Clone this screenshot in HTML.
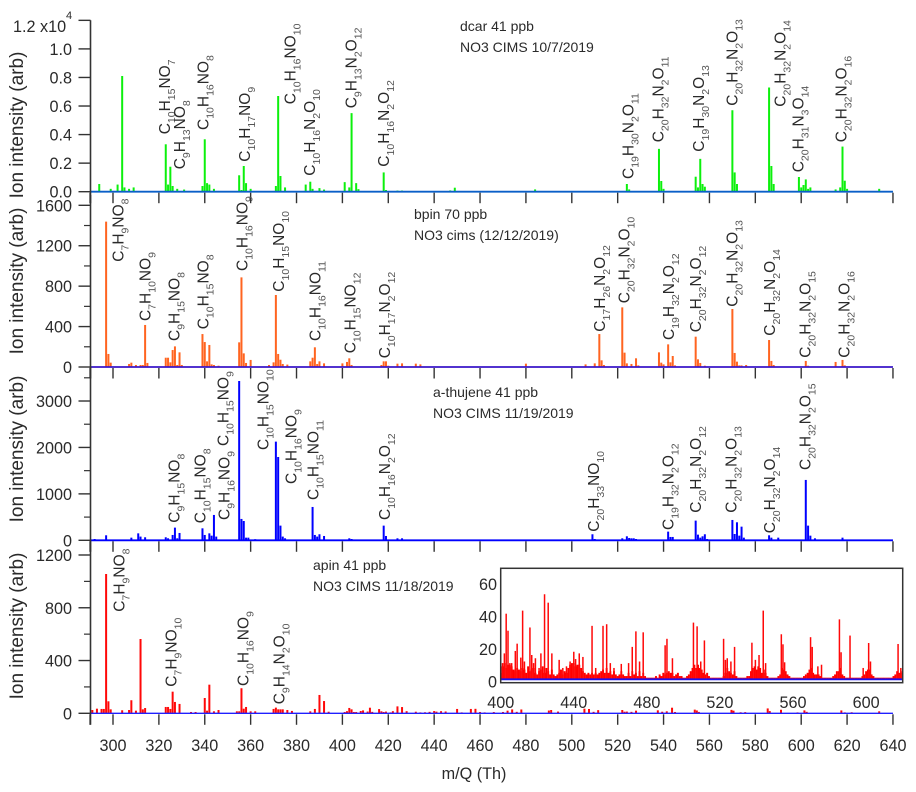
<!DOCTYPE html>
<html>
<head>
<meta charset="utf-8">
<title>Ion intensity spectra</title>
<style>
html,body{margin:0;padding:0;background:#fff;}
#chart{display:block;}
text{font-family:"Liberation Sans",Arial,sans-serif;fill:#2a2a2a;}
.ann{font-size:15.5px;}
.ann .s{font-size:10.5px;baseline-shift:-5px;fill:#555;}
.tick{font-size:16.2px;}
.ytitle{font-size:19px;}
.note{font-size:14px;}
.xtitle{font-size:16.2px;}
</style>
</head>
<body>
<svg id="chart" width="916" height="792" viewBox="0 0 916 792" xmlns="http://www.w3.org/2000/svg">
<defs>
<clipPath id="inset-clip"><rect x="501" y="569" width="401" height="113"></rect></clipPath>
</defs>
<g id="marks"></g>
<g id="inset"></g>
<g id="axes"></g>

<text class="ytitle" text-anchor="middle" transform="translate(23 125) rotate(-90)">Ion intensity (arb)</text>
<text class="ytitle" text-anchor="middle" transform="translate(23 281) rotate(-90)">Ion intensity (arb)</text>
<text class="ytitle" text-anchor="middle" transform="translate(23 449) rotate(-90)">Ion intensity (arb)</text>
<text class="ytitle" text-anchor="middle" transform="translate(23 626) rotate(-90)">Ion intensity (arb)</text>
<text class="xtitle" x="474" y="779" text-anchor="middle">m/Q (Th)</text>

<text class="tick" x="13" y="32">1.2 x10</text>
<text class="tick" x="66" y="19" style="font-size:11px">4</text>

<text class="note" x="460" y="31">dcar 41 ppb</text>
<text class="note" x="460" y="52">NO3 CIMS 10/7/2019</text>
<text class="note" x="414" y="219">bpin 70 ppb</text>
<text class="note" x="414" y="240">NO3 cims (12/12/2019)</text>
<text class="note" x="433" y="397">a-thujene 41 ppb</text>
<text class="note" x="433" y="418">NO3 CIMS 11/19/2019</text>
<text class="note" x="313" y="570">apin 41 ppb</text>
<text class="note" x="313" y="591">NO3 CIMS 11/18/2019</text>

<g>
<text class="ann" transform="translate(170 134.3) rotate(-90)">C<tspan class="s">10</tspan>H<tspan class="s">15</tspan>NO<tspan class="s">7</tspan></text>
<text class="ann" transform="translate(185 169.3) rotate(-90)">C<tspan class="s">9</tspan>H<tspan class="s">13</tspan>NO<tspan class="s">8</tspan></text>
<text class="ann" transform="translate(208.3 130) rotate(-90)">C<tspan class="s">10</tspan>H<tspan class="s">16</tspan>NO<tspan class="s">8</tspan></text>
<text class="ann" transform="translate(250 161.7) rotate(-90)">C<tspan class="s">10</tspan>H<tspan class="s">17</tspan>NO<tspan class="s">9</tspan></text>
<text class="ann" transform="translate(295.7 104.3) rotate(-90)">C<tspan class="s">10</tspan>H<tspan class="s">16</tspan>NO<tspan class="s">10</tspan></text>
<text class="ann" transform="translate(315 175.7) rotate(-90)">C<tspan class="s">10</tspan>H<tspan class="s">16</tspan>N<tspan class="s">2</tspan>O<tspan class="s">10</tspan></text>
<text class="ann" transform="translate(356.7 108.3) rotate(-90)">C<tspan class="s">9</tspan>H<tspan class="s">13</tspan>N<tspan class="s">2</tspan>O<tspan class="s">12</tspan></text>
<text class="ann" transform="translate(389 166.7) rotate(-90)">C<tspan class="s">10</tspan>H<tspan class="s">16</tspan>N<tspan class="s">2</tspan>O<tspan class="s">12</tspan></text>
<text class="ann" transform="translate(633.3 179) rotate(-90)">C<tspan class="s">19</tspan>H<tspan class="s">30</tspan>N<tspan class="s">2</tspan>O<tspan class="s">11</tspan></text>
<text class="ann" transform="translate(663.3 142.3) rotate(-90)">C<tspan class="s">20</tspan>H<tspan class="s">32</tspan>N<tspan class="s">2</tspan>O<tspan class="s">11</tspan></text>
<text class="ann" transform="translate(704 151.7) rotate(-90)">C<tspan class="s">19</tspan>H<tspan class="s">30</tspan>N<tspan class="s">2</tspan>O<tspan class="s">13</tspan></text>
<text class="ann" transform="translate(737.3 105.7) rotate(-90)">C<tspan class="s">20</tspan>H<tspan class="s">32</tspan>N<tspan class="s">2</tspan>O<tspan class="s">13</tspan></text>
<text class="ann" transform="translate(785.7 106.7) rotate(-90)">C<tspan class="s">20</tspan>H<tspan class="s">32</tspan>N<tspan class="s">2</tspan>O<tspan class="s">14</tspan></text>
<text class="ann" transform="translate(803.3 172.3) rotate(-90)">C<tspan class="s">20</tspan>H<tspan class="s">31</tspan>N<tspan class="s">3</tspan>O<tspan class="s">14</tspan></text>
<text class="ann" transform="translate(846.7 142.3) rotate(-90)">C<tspan class="s">20</tspan>H<tspan class="s">32</tspan>N<tspan class="s">2</tspan>O<tspan class="s">16</tspan></text>
</g>

<g>
<text class="ann" transform="translate(123.3 261.7) rotate(-90)">C<tspan class="s">7</tspan>H<tspan class="s">9</tspan>NO<tspan class="s">8</tspan></text>
<text class="ann" transform="translate(150.7 321) rotate(-90)">C<tspan class="s">7</tspan>H<tspan class="s">10</tspan>NO<tspan class="s">9</tspan></text>
<text class="ann" transform="translate(179.3 341) rotate(-90)">C<tspan class="s">9</tspan>H<tspan class="s">15</tspan>NO<tspan class="s">8</tspan></text>
<text class="ann" transform="translate(208.3 329.3) rotate(-90)">C<tspan class="s">10</tspan>H<tspan class="s">15</tspan>NO<tspan class="s">8</tspan></text>
<text class="ann" transform="translate(247.7 271) rotate(-90)">C<tspan class="s">10</tspan>H<tspan class="s">16</tspan>NO<tspan class="s">9</tspan></text>
<text class="ann" transform="translate(284 291.7) rotate(-90)">C<tspan class="s">10</tspan>H<tspan class="s">15</tspan>NO<tspan class="s">10</tspan></text>
<text class="ann" transform="translate(320.7 341) rotate(-90)">C<tspan class="s">10</tspan>H<tspan class="s">16</tspan>NO<tspan class="s">11</tspan></text>
<text class="ann" transform="translate(355.7 353.3) rotate(-90)">C<tspan class="s">10</tspan>H<tspan class="s">15</tspan>NO<tspan class="s">12</tspan></text>
<text class="ann" transform="translate(390 358.3) rotate(-90)">C<tspan class="s">10</tspan>H<tspan class="s">17</tspan>N<tspan class="s">2</tspan>O<tspan class="s">12</tspan></text>
<text class="ann" transform="translate(605 331.7) rotate(-90)">C<tspan class="s">17</tspan>H<tspan class="s">26</tspan>N<tspan class="s">2</tspan>O<tspan class="s">12</tspan></text>
<text class="ann" transform="translate(629.3 303.3) rotate(-90)">C<tspan class="s">20</tspan>H<tspan class="s">32</tspan>N<tspan class="s">2</tspan>O<tspan class="s">10</tspan></text>
<text class="ann" transform="translate(674 340) rotate(-90)">C<tspan class="s">19</tspan>H<tspan class="s">32</tspan>N<tspan class="s">2</tspan>O<tspan class="s">12</tspan></text>
<text class="ann" transform="translate(701 332.3) rotate(-90)">C<tspan class="s">20</tspan>H<tspan class="s">32</tspan>N<tspan class="s">2</tspan>O<tspan class="s">12</tspan></text>
<text class="ann" transform="translate(737.3 306.7) rotate(-90)">C<tspan class="s">20</tspan>H<tspan class="s">32</tspan>N<tspan class="s">2</tspan>O<tspan class="s">13</tspan></text>
<text class="ann" transform="translate(775 335.7) rotate(-90)">C<tspan class="s">20</tspan>H<tspan class="s">32</tspan>N<tspan class="s">2</tspan>O<tspan class="s">14</tspan></text>
<text class="ann" transform="translate(810.7 357.7) rotate(-90)">C<tspan class="s">20</tspan>H<tspan class="s">32</tspan>N<tspan class="s">2</tspan>O<tspan class="s">15</tspan></text>
<text class="ann" transform="translate(849.3 357.7) rotate(-90)">C<tspan class="s">20</tspan>H<tspan class="s">32</tspan>N<tspan class="s">2</tspan>O<tspan class="s">16</tspan></text>
</g>

<g>
<text class="ann" transform="translate(179.3 522.7) rotate(-90)">C<tspan class="s">9</tspan>H<tspan class="s">15</tspan>NO<tspan class="s">8</tspan></text>
<text class="ann" transform="translate(205.7 523.3) rotate(-90)">C<tspan class="s">10</tspan>H<tspan class="s">15</tspan>NO<tspan class="s">8</tspan></text>
<text class="ann" transform="translate(229.3 520) rotate(-90)">C<tspan class="s">9</tspan>H<tspan class="s">16</tspan>NO<tspan class="s">9</tspan></text>
<text class="ann" transform="translate(228.3 446) rotate(-90)">C<tspan class="s">10</tspan>H<tspan class="s">15</tspan>NO<tspan class="s">9</tspan></text>
<text class="ann" transform="translate(268.3 450) rotate(-90)">C<tspan class="s">10</tspan>H<tspan class="s">15</tspan>NO<tspan class="s">10</tspan></text>
<text class="ann" transform="translate(296.7 484) rotate(-90)">C<tspan class="s">10</tspan>H<tspan class="s">16</tspan>NO<tspan class="s">9</tspan></text>
<text class="ann" transform="translate(318.3 500) rotate(-90)">C<tspan class="s">10</tspan>H<tspan class="s">15</tspan>NO<tspan class="s">11</tspan></text>
<text class="ann" transform="translate(390 520) rotate(-90)">C<tspan class="s">10</tspan>H<tspan class="s">16</tspan>N<tspan class="s">2</tspan>O<tspan class="s">12</tspan></text>
<text class="ann" transform="translate(599 531.7) rotate(-90)">C<tspan class="s">20</tspan>H<tspan class="s">33</tspan>NO<tspan class="s">10</tspan></text>
<text class="ann" transform="translate(673.3 530) rotate(-90)">C<tspan class="s">19</tspan>H<tspan class="s">32</tspan>N<tspan class="s">2</tspan>O<tspan class="s">12</tspan></text>
<text class="ann" transform="translate(701 512.7) rotate(-90)">C<tspan class="s">20</tspan>H<tspan class="s">32</tspan>N<tspan class="s">2</tspan>O<tspan class="s">12</tspan></text>
<text class="ann" transform="translate(736.7 512.7) rotate(-90)">C<tspan class="s">20</tspan>H<tspan class="s">32</tspan>N<tspan class="s">2</tspan>O<tspan class="s">13</tspan></text>
<text class="ann" transform="translate(775 533.3) rotate(-90)">C<tspan class="s">20</tspan>H<tspan class="s">32</tspan>N<tspan class="s">2</tspan>O<tspan class="s">14</tspan></text>
<text class="ann" transform="translate(810.7 470) rotate(-90)">C<tspan class="s">20</tspan>H<tspan class="s">32</tspan>N<tspan class="s">2</tspan>O<tspan class="s">15</tspan></text>
</g>

<g>
<text class="ann" transform="translate(124.3 611.7) rotate(-90)">C<tspan class="s">7</tspan>H<tspan class="s">9</tspan>NO<tspan class="s">8</tspan></text>
<text class="ann" transform="translate(176.7 686.7) rotate(-90)">C<tspan class="s">7</tspan>H<tspan class="s">9</tspan>NO<tspan class="s">10</tspan></text>
<text class="ann" transform="translate(248.7 686) rotate(-90)">C<tspan class="s">10</tspan>H<tspan class="s">16</tspan>NO<tspan class="s">9</tspan></text>
<text class="ann" transform="translate(284.3 704.3) rotate(-90)">C<tspan class="s">9</tspan>H<tspan class="s">14</tspan>N<tspan class="s">2</tspan>O<tspan class="s">10</tspan></text>
</g>
</svg>

<script>
// ---- shared axis data ----
const xTickValues = [290,300,320,340,360,380,400,420,440,460,480,500,520,540,560,580,600,620,640];
const xTickLabels = [300,320,340,360,380,400,420,440,460,480,500,520,540,560,580,600,620,640];
const insetXTicks = [400,440,480,520,560,600];
const insetYTicks = [0,20,40,60];

// ---- dcar (green), intensity in units of 10^4 ----
const dcarMz = [294,299,302,304,305,307,309,323,324,325,326,328,331,339,340,341,342,344,355,356,357,358,360,371,372,373,375,384,386,387,390,392,401,403,404,406,407,418,419,424,426,447,449,484,524,525,538,539,540,554,555,556,557,558,570,571,572,586,587,588,599,600,601,602,603,604,615,617,618,619,620,634];
const dcarValues = [0.054,0.02,0.05,0.81,0.03,0.02,0.03,0.332,0.05,0.175,0.04,0.02,0.015,0.04,0.367,0.06,0.05,0.02,0.115,0.012,0.18,0.06,0.02,0.04,0.67,0.11,0.03,0.05,0.07,0.02,0.025,0.015,0.067,0.03,0.55,0.06,0.018,0.135,0.012,0.008,0.008,0.009,0.028,0.016,0.054,0.016,0.30,0.075,0.02,0.105,0.03,0.23,0.054,0.035,0.57,0.135,0.054,0.73,0.18,0.054,0.103,0.03,0.047,0.086,0.02,0.03,0.016,0.03,0.316,0.077,0.02,0.02];
const dcarYTicks = [0,0.2,0.4,0.6,0.8,1.0,1.2];
const dcarYLabels = ["0.0","0.2","0.4","0.6","0.8","1.0",""];

// ---- bpin (orange) ----
const bpinMz = [297,298,299,307,308,310,312,313,314,315,323,324,325,326,327,328,329,330,339,340,341,342,343,344,346,355,356,357,358,360,368,370,371,372,373,374,376,386,387,388,389,390,392,400,402,403,404,417,418,419,420,424,426,432,434,480,506,510,512,513,514,522,523,524,526,528,529,538,539,540,542,543,544,545,554,555,556,558,570,571,572,573,574,576,586,587,588,602,603,615,618,619];
const bpinValues = [1438,129,43,30,43,20,20,20,416,40,92,92,46,168,204,20,145,20,326,247,56,218,26,20,13,244,887,135,40,70,20,46,712,129,72,30,24,56,92,195,30,56,36,36,50,86,20,20,56,56,13,33,36,33,26,33,26,36,326,66,20,590,142,36,30,86,16,145,43,26,224,46,109,16,300,76,40,13,574,139,53,16,16,20,267,60,20,60,13,50,70,16];
const bpinYTicks = [0,400,800,1200,1600];
const bpinMinorTicks = [200,600,1000,1400];

// ---- a-thujene (blue) ----
const thujeneMz = [292,297,304,308,311,312,314,323,324,326,327,328,329,339,340,342,343,344,345,355,356,357,358,359,362,371,372,373,374,375,387,388,389,390,392,403,404,418,419,424,426,509,510,522,524,525,526,527,528,542,543,544,554,555,556,557,558,559,570,571,572,573,574,575,586,587,590,602,603,604,606,618];
const thujeneValues = [28,108,14,57,150,80,65,65,43,115,273,43,158,258,115,150,100,546,80,3432,460,416,57,57,24,2125,1795,316,80,43,718,115,80,130,93,43,28,316,93,43,43,130,28,43,86,50,43,43,28,187,72,72,424,122,57,86,130,28,438,136,388,100,294,57,108,57,57,1300,316,100,43,57];
const thujeneYTicks = [0,1000,2000,3000];
const thujeneMinorTicks = [500,1500,2500,3500];

// ---- apin (red): shared by the main panel and the inset ----
const apinMz = [291,293,295,296,297,298,299,304,307,308,310,312,313,314,323,324,325,326,327,329,334,336,340,341,342,344,346,354,355,356,357,358,360,362,370,371,372,373,374,376,378,386,388,390,392,394,401,402,403,404,405,406,408,409,411,412,413,416,417,418,419,421,422,424,426,428,432,434,436,438,440,441,443,445,450,452,456,458,460,462,466,470,472,474,476,478,490,491,494,505.5,507.5,509.5,511.5,522,523,524,526,528,537.5,539.4,541.4,543.7,545,553.6,554.5,555.4,569.6,570.5,573.6,575.6,585.4,586.3,591.2,598.4,601.4,602.4,617.5,619,622,634];
const apinValues = [25,35,33,33,1056,91,30,23,25,99,20,563,30,40,48,48,33,164,86,71,10,10,116,20,217,15,25,15,15,190,35,48,15,15,33,43,30,30,30,25,18,15,33,139,93,12,10,16,40.5,30,10,10,17.5,22,13.4,42.4,11,32,15,10,13,7,16,52.5,47.3,16,12,7,8,11,17,12.5,16,13.8,33,7,33,34,10,7,9.5,10,20,29.6,11,29,21,25,13,35,32.7,11,24,25,12,13,11,20,22.6,12,15,42.4,10,27.8,21.6,10.5,26,20,8,9,37,16.7,27,7,22.4,11,21.8,7,8,15];
const apinFloorStart = 400;
const apinFloorValues = [
4,8,10,7,9,9,8,6,5,7,
6,5,7,6,4,8,5,6,7,4,
3,5,6,8,4,7,5,3,6,3,
2,3,4,6,3,5,4,7,9,10,
10,8,9,9,7,5,4,3,4,3,
4,3,4,3,4,5,6,4,7,4,
5,3,5,3,2,3,5,3,2,2,
4,2,5,3,4,2,5,2,4,2,
1,1,1,1,1,2,1,3,2,4,
3,4,5,4,4,2,3,4,2,2,
1,1,2,3,5,7,9,7,9,7,
6,4,3,4,2,1,1,1,1,1,
1,1,2,4,7,5,4,3,5,2,
1,1,1,1,1,2,2,5,7,8,
6,8,7,4,6,4,2,1,1,1,
1,1,2,3,7,6,5,3,2,1,
1,1,1,1,1,1,2,3,4,6,
7,4,3,3,3,2,1,1,1,1,
1,1,2,3,5,5,7,3,2,1,
1,1,1,1,1,1,1,1,2,3,
5,6,6,3,2,1,1,1,1,1,
1,1,1,1,1,2,3,5,4,4,
5];
const apinYTicks = [0,400,800,1200];
const apinMinorTicks = [200,600,1000];

// ---- axis functions ----
function xScale(m){ return 113 + (m - 300) * 2.294; }
function yDcar(v){ return 191.7 - v * 142.8; }
function yBpin(v){ return 367 - v * 0.10106; }
function yThujene(v){ return 540.3 - v * 0.04643; }
function yApin(v){ return 713.3 - v * 0.13192; }
function insetX(m){ return 500.7 + (m - 400) * 1.827; }
function insetY(v){ return 679.3 - v * 1.62; }

const NS = "http://www.w3.org/2000/svg";
const marks = document.getElementById("marks");
const inset = document.getElementById("inset");
const axes = document.getElementById("axes");

function seg(parent, x1, y1, x2, y2, color, w, name){
  const el = document.createElementNS(NS, "line");
  el.setAttribute("x1", x1);
  el.setAttribute("y1", y1);
  el.setAttribute("x2", x2);
  el.setAttribute("y2", y2);
  el.setAttribute("stroke", color);
  el.setAttribute("stroke-width", w);
  
  
  parent.appendChild(el);
  return el;
}
function label(parent, x, y, str, anchor, name){
  const el = document.createElementNS(NS, "text");
  el.setAttribute("x", x);
  el.setAttribute("y", y);
  el.setAttribute("text-anchor", anchor);
  el.setAttribute("class", "tick");
  el.textContent = str;
  
  
  parent.appendChild(el);
}
function bars(parent, xs, ys, fx, fy, color, w, name){
  for (let i = 0; i < xs.length; i++) {
    const y0 = fy(0);
    seg(parent, fx(xs[i]), y0, fx(xs[i]), fy(ys[i]), color, w, name + "-" + xs[i]);
  }
}

// ---- main panel peaks ----
bars(marks, dcarMz, dcarValues, xScale, yDcar, "#0cf00c", 2, "dcar-peak");
bars(marks, bpinMz, bpinValues, xScale, yBpin, "#ff6420", 2, "bpin-peak");
bars(marks, thujeneMz, thujeneValues, xScale, yThujene, "#0000ff", 2, "thujene-peak");
bars(marks, apinMz, apinValues, xScale, yApin, "#ff0808", 2, "apin-peak");

// ---- baselines ----
const xLeft = xScale(290), xRight = xScale(640);
seg(marks, xLeft, yDcar(0), xRight, yDcar(0), "#0a5fc8", 1.8, "dcar-baseline");
seg(marks, xLeft, yBpin(0), xRight, yBpin(0), "#3a16c8", 1.8, "bpin-baseline");
seg(marks, xLeft, yThujene(0), xRight, yThujene(0), "#0000ff", 1.8, "thujene-baseline");
seg(marks, xLeft, yApin(0), xRight, yApin(0), "#2020ff", 1.4, "apin-baseline");

// ---- axes ----
const AX = "#333";
const panels = [
  { name:"dcar", y:yDcar, major:dcarYTicks, minor:[], labels:dcarYLabels, top:20.3 },
  { name:"bpin", y:yBpin, major:bpinYTicks, minor:bpinMinorTicks, labels:bpinYTicks.map(String), top:195 },
  { name:"thujene", y:yThujene, major:thujeneYTicks, minor:thujeneMinorTicks, labels:thujeneYTicks.map(String), top:367 },
  { name:"apin", y:yApin, major:apinYTicks, minor:apinMinorTicks, labels:apinYTicks.map(String), top:541 }
];
panels.forEach(function(p){
  const y0 = p.y(0);
  seg(axes, 90.5, p.top, 90.5, y0 + 11.5, AX, 1.6, p.name + "-y-axis");
  p.major.forEach(function(v, i){
    seg(axes, 78.5, p.y(v), 90.5, p.y(v), AX, 1.4, p.name + "-y-tick-" + v);
    if (p.labels[i]) label(axes, 72, p.y(v) + 6, p.labels[i], "end", p.name + "-y-label-" + v);
  });
  p.minor.forEach(function(v){
    seg(axes, 84, p.y(v), 90.5, p.y(v), AX, 1.2, p.name + "-y-minor-tick-" + v);
  });
  xTickValues.forEach(function(m){
    seg(axes, xScale(m), y0 + 1, xScale(m), y0 + 11.5, AX, 1.4, p.name + "-x-tick-" + m);
  });
});
xTickLabels.forEach(function(m){
  label(axes, xScale(m), 751, String(m), "middle", "x-label-" + m);
});

// ---- inset ----
const box = document.createElementNS(NS, "rect");
box.setAttribute("x", 500.7);
box.setAttribute("y", 568.3);
box.setAttribute("width", 402);
box.setAttribute("height", 114.4);
box.setAttribute("fill", "#fff");


inset.appendChild(box);

const insetPlot = document.createElementNS(NS, "g");
insetPlot.setAttribute("clip-path", "url(#inset-clip)");


inset.appendChild(insetPlot);

apinFloorValues.forEach(function(v, i){
  const m = apinFloorStart + i;
  seg(insetPlot, insetX(m), insetY(0), insetX(m), insetY(v), "#ff0000", 1.95, "inset-floor-" + m);
});
bars(insetPlot, apinMz, apinValues, insetX, insetY, "#ff0808", 1.5, "inset-peak");
seg(insetPlot, 500.7, insetY(0), 902.7, insetY(0), "#1a10f0", 1.8, "inset-baseline");

const frame = document.createElementNS(NS, "rect");
frame.setAttribute("x", 500.7);
frame.setAttribute("y", 568.3);
frame.setAttribute("width", 402);
frame.setAttribute("height", 114.4);
frame.setAttribute("fill", "none");
frame.setAttribute("stroke", "#333");
frame.setAttribute("stroke-width", 1.5);


inset.appendChild(frame);

insetYTicks.forEach(function(v){
  label(inset, 497, insetY(v) + 8, String(v), "end", "inset-y-label-" + v);
});
insetXTicks.forEach(function(m){
  label(inset, insetX(m), 708, String(m), "middle", "inset-x-label-" + m);
});
</script>
</body>
</html>
